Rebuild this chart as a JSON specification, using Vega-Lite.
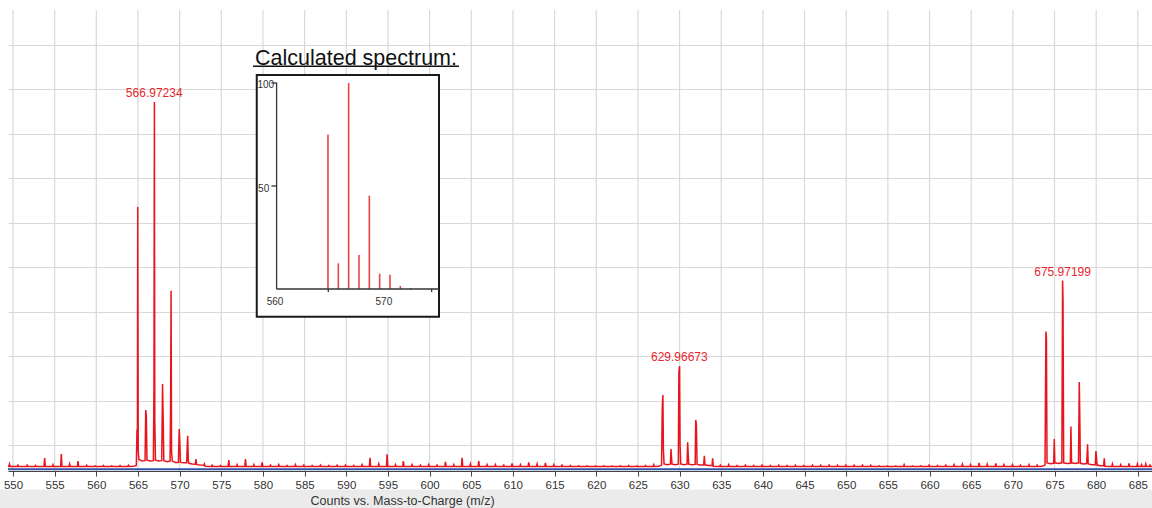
{
"$schema": "https://vega.github.io/schema/vega-lite/v6.json",
"width": 1144, "height": 461,
"autosize": {"type": "none"},
"padding": {"left": 8, "top": 10, "right": 0, "bottom": 37},
"background": "white",
"config": {"view": {"stroke": null}, "font": "Liberation Sans"},
"datasets": {
"spectrum": [
{"m":549.4,"i":0.04},{"m":549.5,"i":0.04},{"m":549.58,"i":0.15},{"m":549.66,"i":0.04},
{"m":550.52,"i":0.04},{"m":550.6,"i":0.1},{"m":550.68,"i":0.04},
{"m":551.62,"i":0.04},{"m":551.7,"i":0.1},{"m":551.78,"i":0.04},
{"m":552.62,"i":0.04},{"m":552.7,"i":0.08},{"m":552.78,"i":0.04},
{"m":553.72,"i":0.04},{"m":553.8,"i":0.42},{"m":553.88,"i":0.04},
{"m":554.72,"i":0.04},{"m":554.8,"i":0.12},{"m":554.88,"i":0.04},
{"m":555.72,"i":0.04},{"m":555.8,"i":0.6},{"m":555.88,"i":0.04},
{"m":556.72,"i":0.04},{"m":556.8,"i":0.15},{"m":556.88,"i":0.04},
{"m":557.72,"i":0.04},{"m":557.8,"i":0.28},{"m":557.88,"i":0.04},
{"m":558.77,"i":0.04},{"m":558.85,"i":0.09},{"m":558.93,"i":0.04},
{"m":559.77,"i":0.04},{"m":559.85,"i":0.07},{"m":559.93,"i":0.04},
{"m":560.77,"i":0.04},{"m":560.85,"i":0.08},{"m":560.93,"i":0.04},
{"m":561.77,"i":0.04},{"m":561.85,"i":0.07},{"m":561.93,"i":0.04},
{"m":562.77,"i":0.04},{"m":562.85,"i":0.08},{"m":562.93,"i":0.04},
{"m":563.77,"i":0.04},{"m":563.85,"i":0.09},{"m":563.93,"i":0.04},
{"m":564.5,"i":0.05},
{"m":564.8,"i":0.08},{"m":564.88,"i":1.7},{"m":564.93,"i":0.8},{"m":564.97,"i":11.7},{"m":565.03,"i":0.7},{"m":565.12,"i":0.35},
{"m":565.5,"i":0.28},{"m":565.85,"i":0.3},{"m":565.93,"i":2.57},{"m":566.0,"i":2.35},{"m":566.08,"i":0.32},
{"m":566.5,"i":0.28},{"m":566.85,"i":0.3},{"m":566.92,"i":3.7},{"m":566.97,"i":16.42},{"m":567.02,"i":2.1},{"m":567.1,"i":0.32},
{"m":567.5,"i":0.28},{"m":567.85,"i":0.3},{"m":567.95,"i":3.74},{"m":568.02,"i":2.26},{"m":568.1,"i":0.3},
{"m":568.5,"i":0.25},{"m":568.85,"i":0.28},{"m":568.92,"i":2.95},{"m":568.97,"i":7.93},{"m":569.03,"i":0.7},{"m":569.12,"i":0.28},
{"m":569.5,"i":0.22},{"m":569.85,"i":0.22},{"m":569.95,"i":1.72},{"m":570.02,"i":1.15},{"m":570.1,"i":0.22},
{"m":570.5,"i":0.2},{"m":570.85,"i":0.2},{"m":570.9,"i":0.85},{"m":570.97,"i":1.42},{"m":571.04,"i":0.3},{"m":571.12,"i":0.18},
{"m":571.5,"i":0.15},{"m":571.88,"i":0.14},{"m":571.96,"i":0.37},{"m":572.04,"i":0.12},
{"m":572.5,"i":0.1},{"m":572.9,"i":0.09},{"m":572.97,"i":0.15},{"m":573.05,"i":0.05},
{"m":573.82,"i":0.04},{"m":573.9,"i":0.1},{"m":573.98,"i":0.04},
{"m":574.82,"i":0.04},{"m":574.9,"i":0.08},{"m":574.98,"i":0.04},
{"m":575.82,"i":0.04},{"m":575.9,"i":0.33},{"m":575.98,"i":0.04},
{"m":576.82,"i":0.04},{"m":576.9,"i":0.12},{"m":576.98,"i":0.04},
{"m":577.82,"i":0.04},{"m":577.9,"i":0.37},{"m":577.98,"i":0.04},
{"m":578.82,"i":0.04},{"m":578.9,"i":0.12},{"m":578.98,"i":0.04},
{"m":579.82,"i":0.04},{"m":579.9,"i":0.22},{"m":579.98,"i":0.04},
{"m":580.82,"i":0.04},{"m":580.9,"i":0.1},{"m":580.98,"i":0.04},
{"m":581.82,"i":0.04},{"m":581.9,"i":0.12},{"m":581.98,"i":0.04},
{"m":582.82,"i":0.04},{"m":582.9,"i":0.08},{"m":582.98,"i":0.04},
{"m":583.82,"i":0.04},{"m":583.9,"i":0.12},{"m":583.98,"i":0.04},
{"m":584.82,"i":0.04},{"m":584.9,"i":0.1},{"m":584.98,"i":0.04},
{"m":585.82,"i":0.04},{"m":585.9,"i":0.08},{"m":585.98,"i":0.04},
{"m":586.82,"i":0.04},{"m":586.9,"i":0.1},{"m":586.98,"i":0.04},
{"m":587.82,"i":0.04},{"m":587.9,"i":0.08},{"m":587.98,"i":0.04},
{"m":588.82,"i":0.04},{"m":588.9,"i":0.09},{"m":588.98,"i":0.04},
{"m":589.82,"i":0.04},{"m":589.9,"i":0.1},{"m":589.98,"i":0.04},
{"m":590.82,"i":0.04},{"m":590.9,"i":0.08},{"m":590.98,"i":0.04},
{"m":591.82,"i":0.04},{"m":591.9,"i":0.12},{"m":591.98,"i":0.04},
{"m":592.77,"i":0.04},{"m":592.85,"i":0.43},{"m":592.93,"i":0.04},
{"m":593.82,"i":0.04},{"m":593.9,"i":0.15},{"m":593.98,"i":0.04},
{"m":594.82,"i":0.04},{"m":594.9,"i":0.58},{"m":594.98,"i":0.04},
{"m":595.82,"i":0.04},{"m":595.9,"i":0.12},{"m":595.98,"i":0.04},
{"m":596.77,"i":0.04},{"m":596.85,"i":0.28},{"m":596.93,"i":0.04},
{"m":597.82,"i":0.04},{"m":597.9,"i":0.12},{"m":597.98,"i":0.04},
{"m":598.82,"i":0.04},{"m":598.9,"i":0.1},{"m":598.98,"i":0.04},
{"m":599.82,"i":0.04},{"m":599.9,"i":0.12},{"m":599.98,"i":0.04},
{"m":600.82,"i":0.04},{"m":600.9,"i":0.1},{"m":600.98,"i":0.04},
{"m":601.82,"i":0.04},{"m":601.9,"i":0.25},{"m":601.98,"i":0.04},
{"m":602.82,"i":0.04},{"m":602.9,"i":0.12},{"m":602.98,"i":0.04},
{"m":603.82,"i":0.04},{"m":603.9,"i":0.43},{"m":603.98,"i":0.04},
{"m":604.82,"i":0.04},{"m":604.9,"i":0.15},{"m":604.98,"i":0.04},
{"m":605.82,"i":0.04},{"m":605.9,"i":0.28},{"m":605.98,"i":0.04},
{"m":606.82,"i":0.04},{"m":606.9,"i":0.12},{"m":606.98,"i":0.04},
{"m":607.82,"i":0.04},{"m":607.9,"i":0.12},{"m":607.98,"i":0.04},
{"m":608.82,"i":0.04},{"m":608.9,"i":0.1},{"m":608.98,"i":0.04},
{"m":609.82,"i":0.04},{"m":609.9,"i":0.18},{"m":609.98,"i":0.04},
{"m":610.82,"i":0.04},{"m":610.9,"i":0.12},{"m":610.98,"i":0.04},
{"m":611.82,"i":0.04},{"m":611.9,"i":0.22},{"m":611.98,"i":0.04},
{"m":612.82,"i":0.04},{"m":612.9,"i":0.15},{"m":612.98,"i":0.04},
{"m":613.82,"i":0.04},{"m":613.9,"i":0.2},{"m":613.98,"i":0.04},
{"m":614.82,"i":0.04},{"m":614.9,"i":0.12},{"m":614.98,"i":0.04},
{"m":615.82,"i":0.04},{"m":615.9,"i":0.1},{"m":615.98,"i":0.04},
{"m":616.82,"i":0.04},{"m":616.9,"i":0.08},{"m":616.98,"i":0.04},
{"m":617.82,"i":0.04},{"m":617.9,"i":0.07},{"m":617.98,"i":0.04},
{"m":618.82,"i":0.04},{"m":618.9,"i":0.07},{"m":618.98,"i":0.04},
{"m":619.82,"i":0.04},{"m":619.9,"i":0.06},{"m":619.98,"i":0.04},
{"m":620.82,"i":0.04},{"m":620.9,"i":0.07},{"m":620.98,"i":0.04},
{"m":621.82,"i":0.04},{"m":621.9,"i":0.06},{"m":621.98,"i":0.04},
{"m":622.82,"i":0.04},{"m":622.9,"i":0.07},{"m":622.98,"i":0.04},
{"m":623.82,"i":0.04},{"m":623.9,"i":0.08},{"m":623.98,"i":0.04},
{"m":624.82,"i":0.04},{"m":624.9,"i":0.07},{"m":624.98,"i":0.04},
{"m":625.82,"i":0.04},{"m":625.9,"i":0.08},{"m":625.98,"i":0.04},
{"m":626.82,"i":0.04},{"m":626.9,"i":0.12},{"m":626.98,"i":0.04},
{"m":627.5,"i":0.05},{"m":627.84,"i":0.1},{"m":627.92,"i":2.65},{"m":628.0,"i":3.25},{"m":628.06,"i":0.8},{"m":628.14,"i":0.15},
{"m":628.5,"i":0.12},{"m":628.9,"i":0.14},{"m":628.97,"i":0.82},{"m":629.03,"i":0.45},{"m":629.1,"i":0.14},
{"m":629.5,"i":0.12},{"m":629.85,"i":0.14},{"m":629.92,"i":4.3},{"m":630.0,"i":4.55},{"m":630.06,"i":1.0},{"m":630.14,"i":0.15},
{"m":630.5,"i":0.12},{"m":630.9,"i":0.14},{"m":630.97,"i":1.12},{"m":631.03,"i":0.63},{"m":631.1,"i":0.14},
{"m":631.5,"i":0.12},{"m":631.87,"i":0.13},{"m":631.94,"i":2.13},{"m":632.02,"i":1.9},{"m":632.1,"i":0.13},
{"m":632.5,"i":0.1},{"m":632.9,"i":0.1},{"m":632.97,"i":0.52},{"m":633.03,"i":0.2},{"m":633.1,"i":0.1},
{"m":633.5,"i":0.08},{"m":633.9,"i":0.08},{"m":633.97,"i":0.4},{"m":634.05,"i":0.05},
{"m":634.82,"i":0.04},{"m":634.9,"i":0.1},{"m":634.98,"i":0.04},
{"m":635.82,"i":0.04},{"m":635.9,"i":0.12},{"m":635.98,"i":0.04},
{"m":636.82,"i":0.04},{"m":636.9,"i":0.08},{"m":636.98,"i":0.04},
{"m":637.82,"i":0.04},{"m":637.9,"i":0.1},{"m":637.98,"i":0.04},
{"m":638.82,"i":0.04},{"m":638.9,"i":0.08},{"m":638.98,"i":0.04},
{"m":639.82,"i":0.04},{"m":639.9,"i":0.1},{"m":639.98,"i":0.04},
{"m":640.82,"i":0.04},{"m":640.9,"i":0.08},{"m":640.98,"i":0.04},
{"m":641.82,"i":0.04},{"m":641.9,"i":0.09},{"m":641.98,"i":0.04},
{"m":642.82,"i":0.04},{"m":642.9,"i":0.08},{"m":642.98,"i":0.04},
{"m":643.82,"i":0.04},{"m":643.9,"i":0.09},{"m":643.98,"i":0.04},
{"m":644.82,"i":0.04},{"m":644.9,"i":0.08},{"m":644.98,"i":0.04},
{"m":645.87,"i":0.04},{"m":645.95,"i":0.1},{"m":646.03,"i":0.04},
{"m":646.87,"i":0.04},{"m":646.95,"i":0.09},{"m":647.03,"i":0.04},
{"m":647.87,"i":0.04},{"m":647.95,"i":0.1},{"m":648.03,"i":0.04},
{"m":648.87,"i":0.04},{"m":648.95,"i":0.09},{"m":649.03,"i":0.04},
{"m":649.87,"i":0.04},{"m":649.95,"i":0.1},{"m":650.03,"i":0.04},
{"m":650.87,"i":0.04},{"m":650.95,"i":0.09},{"m":651.03,"i":0.04},
{"m":651.87,"i":0.04},{"m":651.95,"i":0.1},{"m":652.03,"i":0.04},
{"m":652.87,"i":0.04},{"m":652.95,"i":0.09},{"m":653.03,"i":0.04},
{"m":653.87,"i":0.04},{"m":653.95,"i":0.07},{"m":654.03,"i":0.04},
{"m":654.87,"i":0.04},{"m":654.95,"i":0.06},{"m":655.03,"i":0.04},
{"m":655.87,"i":0.04},{"m":655.95,"i":0.06},{"m":656.03,"i":0.04},
{"m":656.87,"i":0.04},{"m":656.95,"i":0.12},{"m":657.03,"i":0.04},
{"m":657.87,"i":0.04},{"m":657.95,"i":0.06},{"m":658.03,"i":0.04},
{"m":658.87,"i":0.04},{"m":658.95,"i":0.07},{"m":659.03,"i":0.04},
{"m":659.87,"i":0.04},{"m":659.95,"i":0.1},{"m":660.03,"i":0.04},
{"m":660.87,"i":0.04},{"m":660.95,"i":0.08},{"m":661.03,"i":0.04},
{"m":661.87,"i":0.04},{"m":661.95,"i":0.1},{"m":662.03,"i":0.04},
{"m":662.87,"i":0.04},{"m":662.95,"i":0.12},{"m":663.03,"i":0.04},
{"m":663.87,"i":0.04},{"m":663.95,"i":0.14},{"m":664.03,"i":0.04},
{"m":664.84,"i":0.04},{"m":664.92,"i":0.12},{"m":665.0,"i":0.04},
{"m":665.87,"i":0.04},{"m":665.95,"i":0.2},{"m":666.03,"i":0.04},
{"m":666.84,"i":0.04},{"m":666.92,"i":0.14},{"m":667.0,"i":0.04},
{"m":667.87,"i":0.04},{"m":667.95,"i":0.18},{"m":668.03,"i":0.04},
{"m":668.84,"i":0.04},{"m":668.92,"i":0.12},{"m":669.0,"i":0.04},
{"m":669.87,"i":0.04},{"m":669.95,"i":0.12},{"m":670.03,"i":0.04},
{"m":670.84,"i":0.04},{"m":670.92,"i":0.09},{"m":671.0,"i":0.04},
{"m":671.87,"i":0.04},{"m":671.95,"i":0.12},{"m":672.03,"i":0.04},
{"m":672.84,"i":0.04},{"m":672.92,"i":0.1},{"m":673.0,"i":0.04},
{"m":673.5,"i":0.05},{"m":673.86,"i":0.1},{"m":673.97,"i":6.1},{"m":674.03,"i":5.82},{"m":674.1,"i":0.2},
{"m":674.5,"i":0.16},{"m":674.9,"i":0.18},{"m":674.97,"i":1.27},{"m":675.04,"i":0.2},
{"m":675.5,"i":0.17},{"m":675.88,"i":0.2},{"m":675.97,"i":8.39},{"m":676.02,"i":7.52},{"m":676.1,"i":0.2},
{"m":676.5,"i":0.17},{"m":676.9,"i":0.18},{"m":676.97,"i":1.83},{"m":677.04,"i":0.2},
{"m":677.5,"i":0.17},{"m":677.88,"i":0.2},{"m":677.97,"i":3.83},{"m":678.02,"i":2.68},{"m":678.1,"i":0.18},
{"m":678.5,"i":0.15},{"m":678.85,"i":0.17},{"m":678.91,"i":0.55},{"m":678.97,"i":1.03},{"m":679.04,"i":0.15},
{"m":679.5,"i":0.12},{"m":679.9,"i":0.12},{"m":679.97,"i":0.73},{"m":680.03,"i":0.48},{"m":680.1,"i":0.1},
{"m":680.5,"i":0.07},{"m":680.9,"i":0.08},{"m":680.97,"i":0.4},{"m":681.05,"i":0.05},
{"m":681.87,"i":0.04},{"m":681.95,"i":0.15},{"m":682.03,"i":0.04},
{"m":682.87,"i":0.04},{"m":682.95,"i":0.12},{"m":683.03,"i":0.04},
{"m":683.87,"i":0.04},{"m":683.95,"i":0.18},{"m":684.03,"i":0.04},
{"m":684.87,"i":0.04},{"m":684.95,"i":0.15},{"m":685.03,"i":0.04},
{"m":685.37,"i":0.04},{"m":685.45,"i":0.12},{"m":685.53,"i":0.04},
{"m":685.87,"i":0.04},{"m":685.95,"i":0.15},{"m":686.03,"i":0.04},
{"m":686.37,"i":0.04},{"m":686.45,"i":0.1},{"m":686.53,"i":0.04},{"m":686.7,"i":0.04}
],
"peaks": [
{"m":566.95,"i":16.42,"t":"566.97234"},
{"m":629.97,"i":4.55,"t":"629.96673"},
{"m":675.97,"i":8.39,"t":"675.97199"}
],
"grid": [{"g":550},{"g":555},{"g":560},{"g":565},{"g":570},{"g":575},{"g":580},{"g":585},{"g":590},{"g":595},{"g":600},{"g":605},{"g":610},{"g":615},{"g":620},{"g":625},{"g":630},{"g":635},{"g":640},{"g":645},{"g":650},{"g":655},{"g":660},{"g":665},{"g":670},{"g":675},{"g":680},{"g":685}],
"band": [{"x1":548,"x2":688,"y1":-1.0,"y2":-2.0}],
"baseline": [{"b":-0.085}],
"calc": [
{"m":564.97,"v":75},{"m":565.97,"v":12.5},{"m":566.97,"v":100},{"m":567.97,"v":16.5},{"m":568.97,"v":45.3},
{"m":569.97,"v":7.4},{"m":570.97,"v":6.9},{"m":571.97,"v":1.5},{"m":572.97,"v":0.5}
],
"box": [{"x1":558.08,"x2":575.71,"y1":-13.45,"y2":103.9}],
"insetLines": [
{"x1":560,"x2":560,"y1":0,"y2":100.2},
{"x1":560,"x2":575.71,"y1":0,"y2":0},
{"x1":565,"x2":565,"y1":0,"y2":-1.5},
{"x1":575,"x2":575,"y1":0,"y2":-1.5},
{"x1":559.5,"x2":560,"y1":50,"y2":50},
{"x1":559.5,"x2":560,"y1":100,"y2":100}
],
"insetLabels": [
{"x":558.95,"y":99,"t":"100"},
{"x":558.75,"y":48.5,"t":"50"},
{"x":559.85,"y":-6.2,"t":"560"},
{"x":570.38,"y":-6.2,"t":"570"}
],
"insetTitle": [{"x":567.68,"y":108.95,"t":"Calculated spectrum:"}],
"underline": [{"x1":557.72,"x2":577.64,"y":108.1}]
},
"layer": [
{
"layer": [
{"data": {"name": "band"},
 "mark": {"type": "rect", "fill": "#ebebeb", "clip": false},
 "encoding": {
  "x": {"field": "x1", "type": "quantitative", "scale": {"domain": [549.4, 686.7], "zero": false, "nice": false},
   "axis": {"values": [550,555,560,565,570,575,580,585,590,595,600,605,610,615,620,625,630,635,640,645,650,655,660,665,670,675,680,685], "format": "d", "grid": false, "zindex": 1, "domainColor": "#444", "domainWidth": 1, "tickColor": "#444", "tickSize": 5, "tickWidth": 1, "labelFontSize": 11.5, "labelColor": "#333", "labelPadding": 3, "labelFlush": false, "labelFont": "Liberation Sans", "title": "Counts vs. Mass-to-Charge (m/z)", "titleFont": "Liberation Sans", "titleFontSize": 12.5, "titleFontWeight": "normal", "titleColor": "#333", "titleX": 302, "titleY": 33.3, "titleAlign": "left", "titleBaseline": "alphabetic"}},
  "x2": {"field": "x2"},
  "y": {"field": "y1", "type": "quantitative", "scale": {"domain": [-0.166, 20.553], "zero": false, "nice": false},
   "axis": {"values": [1,2,3,4,5,6,7,8,9,10,11,12,13,14,15,16,17,18,19,20], "grid": true, "gridColor": "#d9d9d9", "gridWidth": 1.2, "domain": false, "ticks": false, "labels": false, "title": null, "zindex": 0}},
  "y2": {"field": "y2"}
 }},
{"data": {"name": "grid"},
 "mark": {"type": "rule", "color": "#d9d9d9", "strokeWidth": 1.2},
 "encoding": {"x": {"field": "g", "type": "quantitative", "scale": {"domain": [549.4, 686.7], "zero": false, "nice": false}}}},
{"data": {"name": "baseline"},
 "mark": {"type": "rule", "color": "#3353a8", "strokeWidth": 2},
 "encoding": {"y": {"field": "b", "type": "quantitative", "scale": {"domain": [-0.166, 20.553], "zero": false, "nice": false}}}},
{"data": {"name": "spectrum"},
 "mark": {"type": "line", "color": "#e8141e", "strokeWidth": 1.5},
 "encoding": {
  "x": {"field": "m", "type": "quantitative", "scale": {"domain": [549.4, 686.7], "zero": false, "nice": false}},
  "y": {"field": "i", "type": "quantitative", "scale": {"domain": [-0.166, 20.553], "zero": false, "nice": false}}
 }},
{"data": {"name": "peaks"},
 "mark": {"type": "text", "color": "#e8262c", "fontSize": 12, "dy": -4.6, "baseline": "alphabetic", "align": "center", "font": "Liberation Sans"},
 "encoding": {
  "x": {"field": "m", "type": "quantitative", "scale": {"domain": [549.4, 686.7], "zero": false, "nice": false}},
  "y": {"field": "i", "type": "quantitative", "scale": {"domain": [-0.166, 20.553], "zero": false, "nice": false}},
  "text": {"field": "t"}
 }}
]
},
{
"layer": [
{"data": {"name": "box"},
 "mark": {"type": "rect", "fill": "white", "stroke": "#1a1a1a", "strokeWidth": 2, "clip": false},
 "encoding": {
  "x": {"field": "x1", "type": "quantitative", "scale": {"domain": [560, 576], "range": [268.6, 434.0], "zero": false, "nice": false}, "axis": null},
  "x2": {"field": "x2"},
  "y": {"field": "y1", "type": "quantitative", "scale": {"domain": [0, 100], "range": [279, 73], "zero": false, "nice": false}, "axis": null},
  "y2": {"field": "y2"}
 }},
{"data": {"name": "calc"},
 "mark": {"type": "rule", "color": "#e84545", "strokeWidth": 1.6},
 "encoding": {
  "x": {"field": "m", "type": "quantitative", "scale": {"domain": [560, 576], "range": [268.6, 434.0], "zero": false, "nice": false}, "axis": null},
  "y": {"field": "v", "type": "quantitative", "scale": {"domain": [0, 100], "range": [279, 73], "zero": false, "nice": false}, "axis": null},
  "y2": {"datum": 0}
 }},
{"data": {"name": "insetLines"},
 "mark": {"type": "rule", "color": "#333", "strokeWidth": 1.3},
 "encoding": {
  "x": {"field": "x1", "type": "quantitative", "scale": {"domain": [560, 576], "range": [268.6, 434.0], "zero": false, "nice": false}, "axis": null},
  "x2": {"field": "x2"},
  "y": {"field": "y1", "type": "quantitative", "scale": {"domain": [0, 100], "range": [279, 73], "zero": false, "nice": false}, "axis": null},
  "y2": {"field": "y2"}
 }},
{"data": {"name": "insetLabels"},
 "mark": {"type": "text", "color": "#333", "fontSize": 10, "baseline": "middle", "align": "center", "font": "Liberation Sans"},
 "encoding": {
  "x": {"field": "x", "type": "quantitative", "scale": {"domain": [560, 576], "range": [268.6, 434.0], "zero": false, "nice": false}, "axis": null},
  "y": {"field": "y", "type": "quantitative", "scale": {"domain": [0, 100], "range": [279, 73], "zero": false, "nice": false}, "axis": null},
  "text": {"field": "t"}
 }},
{"data": {"name": "insetTitle"},
 "mark": {"type": "text", "color": "#111", "fontSize": 21.5, "baseline": "alphabetic", "align": "center", "font": "Liberation Sans"},
 "encoding": {
  "x": {"field": "x", "type": "quantitative", "scale": {"domain": [560, 576], "range": [268.6, 434.0], "zero": false, "nice": false}, "axis": null},
  "y": {"field": "y", "type": "quantitative", "scale": {"domain": [0, 100], "range": [279, 73], "zero": false, "nice": false}, "axis": null},
  "text": {"field": "t"}
 }},
{"data": {"name": "underline"},
 "mark": {"type": "rule", "color": "#111", "strokeWidth": 1.5},
 "encoding": {
  "x": {"field": "x1", "type": "quantitative", "scale": {"domain": [560, 576], "range": [268.6, 434.0], "zero": false, "nice": false}, "axis": null},
  "x2": {"field": "x2"},
  "y": {"field": "y", "type": "quantitative", "scale": {"domain": [0, 100], "range": [279, 73], "zero": false, "nice": false}, "axis": null}
 }}
]
}
],
"resolve": {"scale": {"x": "independent", "y": "independent"}}
}
